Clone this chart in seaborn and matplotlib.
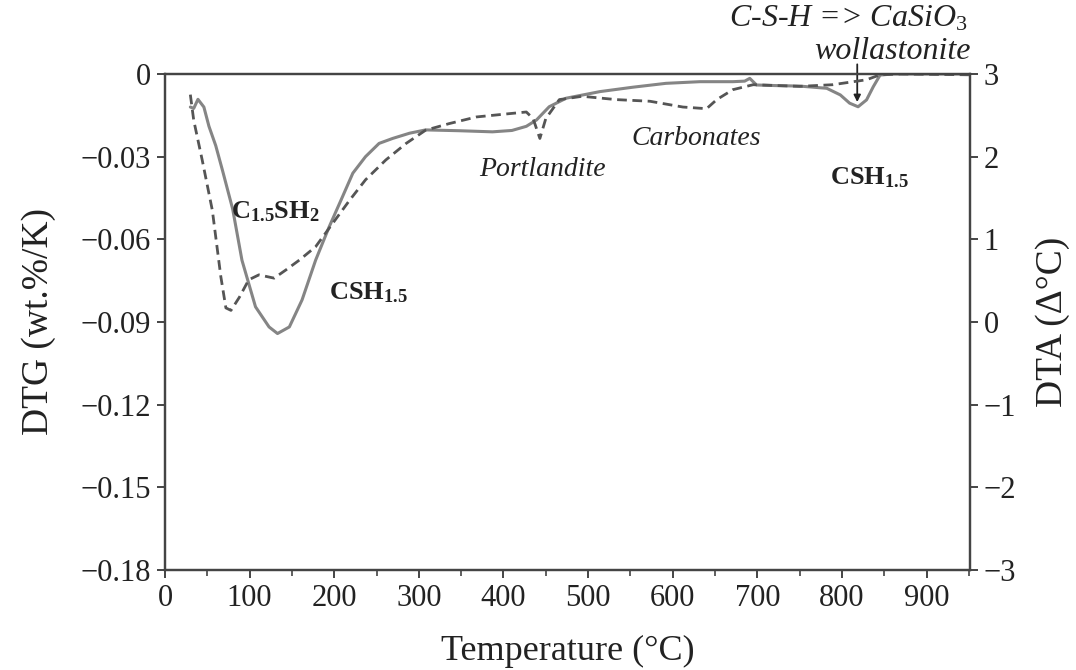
import matplotlib
matplotlib.use("Agg")
import matplotlib.pyplot as plt
import seaborn as sns
import pandas as pd

# DTG (solid, left axis)
dtg_temp = [30, 34, 39, 46, 52, 60, 68, 80, 91, 107, 123, 133, 147, 162, 178, 194, 208, 222,
            237, 253, 269, 289, 308, 348, 387, 410, 427, 439, 454, 474, 514, 553, 592, 632,
            671, 685, 691, 699, 720, 750, 782, 798, 809, 819, 829, 837, 845, 860, 900, 950]
dtg_vals = [-0.012, -0.0125, -0.0092, -0.012, -0.019, -0.026, -0.035, -0.049, -0.0676, -0.0845,
            -0.0918, -0.0942, -0.0918, -0.082, -0.0676, -0.0555, -0.0458, -0.036,
            -0.030, -0.0252, -0.0234, -0.0215, -0.0203, -0.0206, -0.021, -0.0205, -0.019, -0.0167,
            -0.0119, -0.0088, -0.0064, -0.0048, -0.0034, -0.0028,
            -0.0028, -0.0026, -0.0016, -0.004, -0.0042, -0.0044, -0.0052, -0.0076, -0.0106, -0.0119,
            -0.0094, -0.0046, -0.0004, 0.0, 0.0, 0.0]

# DTA (dashed, right axis)
dta_temp = [30, 34, 44, 56, 66, 72, 78, 88, 99, 111, 129, 143, 159, 178, 198, 218, 237, 261,
            285, 308, 336, 368, 407, 427, 435, 443, 450, 466, 493, 533, 573, 612, 640, 652,
            671, 695, 750, 789, 829, 845, 869, 950]
dta_vals = [2.75, 2.44, 1.96, 1.35, 0.55, 0.17, 0.14, 0.30, 0.51, 0.57, 0.53, 0.63, 0.75, 0.91,
            1.19, 1.47, 1.72, 1.96, 2.16, 2.32, 2.40, 2.48, 2.52, 2.54, 2.46, 2.22, 2.46, 2.69,
            2.73, 2.69, 2.67, 2.60, 2.58, 2.69, 2.81, 2.87, 2.85, 2.87, 2.93, 2.99, 3.0, 2.99]

x_ticks = [0, 100, 200, 300, 400, 500, 600, 700, 800, 900]
dtg_ticks = [0, -0.03, -0.06, -0.09, -0.12, -0.15, -0.18]
dtg_ticklabels = ["0", "\u22120.03", "\u22120.06", "\u22120.09", "\u22120.12", "\u22120.15", "\u22120.18"]
dta_ticks = [3, 2, 1, 0, -1, -2, -3]
dta_ticklabels = ["3", "2", "1", "0", "\u22121", "\u22122", "\u22123"]

sns.set_theme(style="ticks")
plt.rcParams["font.family"] = ["Liberation Serif", "DejaVu Serif"]
plt.rcParams["mathtext.fontset"] = "custom"
plt.rcParams["mathtext.rm"] = "Liberation Serif"
plt.rcParams["mathtext.it"] = "Liberation Serif:italic"
plt.rcParams["mathtext.bf"] = "Liberation Serif:bold"

txt = "#222222"
fig = plt.figure(figsize=(10.76, 6.7), dpi=100)
ax = fig.add_axes([0.1533, 0.1493, 0.748, 0.7403])
ax2 = ax.twinx()

df1 = pd.DataFrame({"T": dtg_temp, "DTG": dtg_vals})
df2 = pd.DataFrame({"T": dta_temp, "DTA": dta_vals})
sns.lineplot(data=df1, x="T", y="DTG", ax=ax, color="#858585", lw=2.2, sort=False, estimator=None)
sns.lineplot(data=df2, x="T", y="DTA", ax=ax2, color="#555555", lw=2.0, sort=False,
             estimator=None, linestyle=(0, (3.5, 2)))

ax.set_xlim(0, 951)
ax.set_ylim(-0.18, 0)
ax2.set_ylim(-3, 3)
ax.set_xticks(x_ticks)
ax.set_xticks([50 + 100 * i for i in range(10)], minor=True)
ax.set_yticks(dtg_ticks)
ax.set_yticklabels(dtg_ticklabels)
ax2.set_yticks(dta_ticks)
ax2.set_yticklabels(dta_ticklabels)

for a in (ax, ax2):
    for s in a.spines.values():
        s.set_visible(True)
        s.set_color("#444444")
        s.set_linewidth(1.6)
    a.tick_params(axis="both", which="major", labelsize=22, colors="#444444",
                  labelcolor=txt, length=6, width=1.4, direction="out", pad=4)
    a.tick_params(axis="x", which="minor", length=4, width=1.2, colors="#444444", direction="out")
ax.tick_params(top=False, right=False)

ax.set_xlabel("Temperature (\u00b0C)", fontsize=26, color=txt, labelpad=16)
ax.set_ylabel("DTG (wt.%/K)", fontsize=27, color=txt, labelpad=18)
ax2.set_ylabel("DTA (\u0394\u00b0C)", fontsize=27, color=txt, labelpad=14)

# annotations
ax.text(78, -0.050, r"C$_{\mathbf{1.5}}$SH$_{\mathbf{2}}$", fontsize=19, fontweight="bold",
        color=txt, ha="left", va="center")
ax.text(194, -0.0795, r"CSH$_{\mathbf{1.5}}$", fontsize=19, fontweight="bold",
        color=txt, ha="left", va="center")
ax.text(833, -0.0375, r"CSH$_{\mathbf{1.5}}$", fontsize=19, fontweight="bold",
        color=txt, ha="center", va="center")
ax.text(446, -0.0345, "Portlandite", fontsize=20, style="italic", color=txt, ha="center", va="center")
ax.text(628, -0.0235, "Carbonates", fontsize=20, style="italic", color=txt, ha="center", va="center")
ax.text(860, 0.0082, "wollastonite", fontsize=23, style="italic", color=txt, ha="center",
        va="center", clip_on=False)
ax.text(808, 0.0200, r"C-S-H => CaSiO$_{\mathit{3}}$", fontsize=23, style="italic", color=txt,
        ha="center", va="center", clip_on=False)
ax.annotate("", xy=(818, -0.0112), xytext=(818, 0.0045),
            arrowprops=dict(arrowstyle="-|>", color="#222222", lw=1.3, mutation_scale=10),
            annotation_clip=False)

fig.savefig("out.png", dpi=100)
